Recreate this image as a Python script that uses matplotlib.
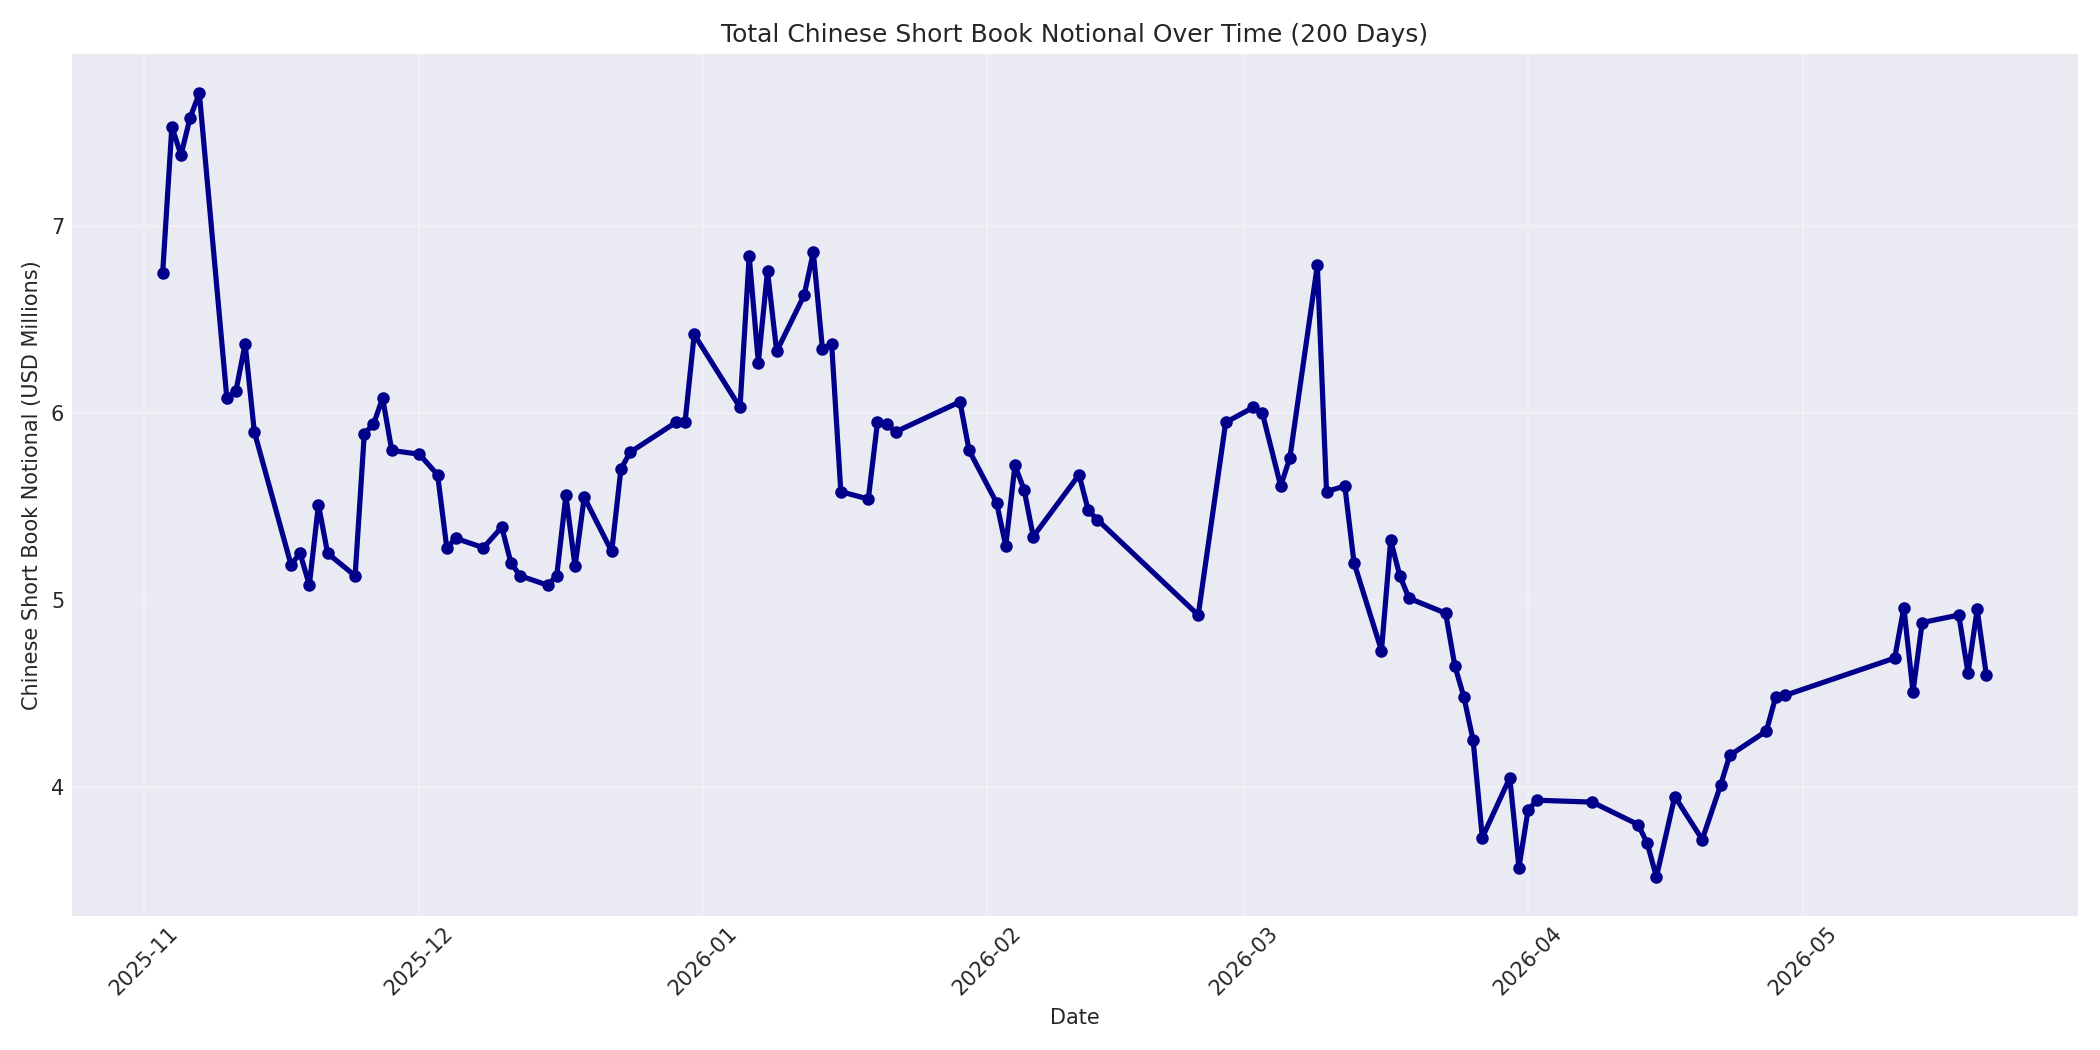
import matplotlib
matplotlib.use("Agg")
import matplotlib.pyplot as plt
import matplotlib.dates as mdates
import pandas as pd

# trading days and notional (USD millions)
dates = [
    "2025-11-03", "2025-11-04", "2025-11-05", "2025-11-06", "2025-11-07",
    "2025-11-10", "2025-11-11", "2025-11-12", "2025-11-13",
    "2025-11-17", "2025-11-18", "2025-11-19", "2025-11-20", "2025-11-21",
    "2025-11-24", "2025-11-25", "2025-11-26", "2025-11-27", "2025-11-28",
    "2025-12-01", "2025-12-03", "2025-12-04", "2025-12-05",
    "2025-12-08", "2025-12-10", "2025-12-11", "2025-12-12",
    "2025-12-15", "2025-12-16", "2025-12-17", "2025-12-18", "2025-12-19",
    "2025-12-22", "2025-12-23", "2025-12-24",
    "2025-12-29", "2025-12-30", "2025-12-31",
    "2026-01-05", "2026-01-06", "2026-01-07", "2026-01-08", "2026-01-09",
    "2026-01-12", "2026-01-13", "2026-01-14", "2026-01-15", "2026-01-16",
    "2026-01-19", "2026-01-20", "2026-01-21", "2026-01-22",
    "2026-01-29", "2026-01-30",
    "2026-02-02", "2026-02-03", "2026-02-04", "2026-02-05", "2026-02-06",
    "2026-02-11", "2026-02-12", "2026-02-13",
    "2026-02-24", "2026-02-27",
    "2026-03-02", "2026-03-03", "2026-03-05", "2026-03-06",
    "2026-03-09", "2026-03-10", "2026-03-12", "2026-03-13",
    "2026-03-16", "2026-03-17", "2026-03-18", "2026-03-19",
    "2026-03-23", "2026-03-24", "2026-03-25", "2026-03-26", "2026-03-27",
    "2026-03-30", "2026-03-31", "2026-04-01", "2026-04-02",
    "2026-04-08",
    "2026-04-13", "2026-04-14", "2026-04-15", "2026-04-17",
    "2026-04-20", "2026-04-22", "2026-04-23",
    "2026-04-27", "2026-04-28", "2026-04-29",
    "2026-05-11", "2026-05-12", "2026-05-13", "2026-05-14",
    "2026-05-18", "2026-05-19", "2026-05-20", "2026-05-21",
]
notional = [
    6.75, 7.53, 7.38, 7.58, 7.71,
    6.08, 6.12, 6.37, 5.90,
    5.19, 5.25, 5.08, 5.51, 5.25,
    5.13, 5.89, 5.94, 6.08, 5.80,
    5.78, 5.67, 5.28, 5.33,
    5.28, 5.39, 5.20, 5.13,
    5.08, 5.13, 5.56, 5.18, 5.55,
    5.26, 5.70, 5.79,
    5.95, 5.95, 6.42,
    6.03, 6.84, 6.27, 6.76, 6.33,
    6.63, 6.86, 6.34, 6.37, 5.58,
    5.54, 5.95, 5.94, 5.90,
    6.06, 5.80,
    5.52, 5.29, 5.72, 5.59, 5.34,
    5.67, 5.48, 5.43,
    4.92, 5.95,
    6.03, 6.00, 5.61, 5.76,
    6.79, 5.58, 5.61, 5.20,
    4.73, 5.32, 5.13, 5.01,
    4.93, 4.65, 4.48, 4.25, 3.73,
    4.05, 3.57, 3.88, 3.93,
    3.92,
    3.80, 3.70, 3.52, 3.95,
    3.72, 4.01, 4.17,
    4.30, 4.48, 4.49,
    4.69, 4.96, 4.51, 4.88,
    4.92, 4.61, 4.95, 4.60,
]

x = pd.to_datetime(dates)

plt.style.use("seaborn-v0_8-darkgrid")
plt.rcParams["font.family"] = ["DejaVu Sans"]
fig, ax = plt.subplots(figsize=(14, 7), dpi=150)

ax.plot(x, notional, color="darkblue", linewidth=2.5, marker="o", markersize=5)

ax.set_title("Total Chinese Short Book Notional Over Time (200 Days)", fontsize=12)
ax.set_xlabel("Date", fontsize=10)
ax.set_ylabel("Chinese Short Book Notional (USD Millions)", fontsize=10)
ax.grid(True, alpha=0.3)
ax.xaxis.set_major_locator(mdates.MonthLocator())
ax.xaxis.set_major_formatter(mdates.DateFormatter("%Y-%m"))
plt.xticks(rotation=45)

plt.tight_layout()
plt.savefig("out.png")
